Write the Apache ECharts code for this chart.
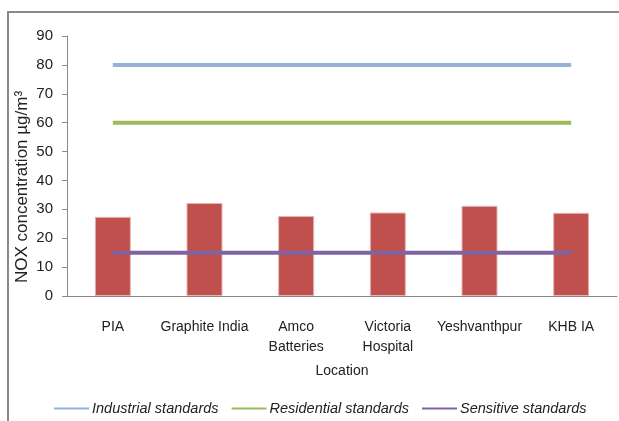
<!DOCTYPE html>
<html>
<head>
<meta charset="utf-8">
<script src="https://cdn.jsdelivr.net/npm/echarts@6/dist/echarts.min.js"></script>
<style>
  html, body { margin: 0; padding: 0; background: #fff; }
  #main { width: 619px; height: 421px; }
</style>
</head>
<body>
<div id="main"></div>
<script>
// 数据
var locations = ['PIA', 'Graphite India', 'Amco\nBatteries', 'Victoria\nHospital', 'Yeshvanthpur', 'KHB IA'];
var noxValues = [27.4, 32.2, 27.7, 28.9, 31.2, 28.8];
var industrial = [80, 80, 80, 80, 80, 80];
var residential = [60, 60, 60, 60, 60, 60];
var sensitive = [15, 15, 15, 15, 15, 15];
var yTicks = { min: 0, max: 90, interval: 10 };

var font = "'Liberation Sans', Arial, sans-serif";
var myChart = echarts.init(document.getElementById('main'));
var option = {
  animation: false,
  backgroundColor: '#fff',
  grid: { left: 67, right: 2, top: 36, bottom: 125 },
  legend: {
    data: ['Industrial standards', 'Residential standards', 'Sensitive standards'],
    left: 49,
    top: 396,
    icon: 'rect',
    itemWidth: 35,
    itemHeight: 2,
    itemGap: 13,
    textStyle: { fontFamily: font, fontSize: 14.5, fontStyle: 'italic', color: '#222', padding: [0, 0, 0, -2] }
  },
  graphic: [
    { // 外框
      type: 'rect', shape: { x: 8, y: 12, width: 700, height: 500 },
      style: { fill: 'none', stroke: '#8a8a8a', lineWidth: 2 }, silent: true
    },
    { // y轴标题
      type: 'text', x: 22, y: 187, rotation: Math.PI / 2,
      style: {
        text: 'NOX concentration µg/m³', fontFamily: font, fontSize: 17, fill: '#222',
        textAlign: 'center', textVerticalAlign: 'middle'
      }
    }
  ],
  xAxis: {
    type: 'category',
    data: locations,
    name: 'Location',
    nameLocation: 'middle',
    nameGap: 68,
    nameTextStyle: { fontFamily: font, fontSize: 14, color: '#222' },
    axisLine: { lineStyle: { color: '#8a8a8a', width: 1 } },
    axisTick: { length: 5, lineStyle: { color: '#8a8a8a' } },
    axisLabel: { fontFamily: font, fontSize: 14, color: '#222', margin: 21, lineHeight: 20, interval: 0 }
  },
  yAxis: {
    type: 'value',
    min: yTicks.min,
    max: yTicks.max,
    interval: yTicks.interval,
    axisLine: { show: true, lineStyle: { color: '#8a8a8a', width: 1 } },
    axisTick: { show: true, length: 5, lineStyle: { color: '#8a8a8a' } },
    splitLine: { show: false },
    axisLabel: { fontFamily: font, fontSize: 15, color: '#222', margin: 14 }
  },
  series: [
    {
      name: 'NOX',
      type: 'bar',
      data: noxValues,
      barWidth: 36,
      itemStyle: { color: '#C0504D', borderColor: '#E3B5B4', borderWidth: 1 }
    },
    {
      name: 'Industrial standards', type: 'line', data: industrial,
      symbol: 'none', color: '#95B3D7', lineStyle: { width: 4, color: '#95B3D7' }
    },
    {
      name: 'Residential standards', type: 'line', data: residential,
      symbol: 'none', color: '#9BBB59', lineStyle: { width: 4, color: '#9BBB59' }
    },
    {
      name: 'Sensitive standards', type: 'line', data: sensitive,
      symbol: 'none', color: '#8064A2', lineStyle: { width: 4, color: '#8064A2' }
    }
  ]
};
myChart.setOption(option);
</script>
</body>
</html>
